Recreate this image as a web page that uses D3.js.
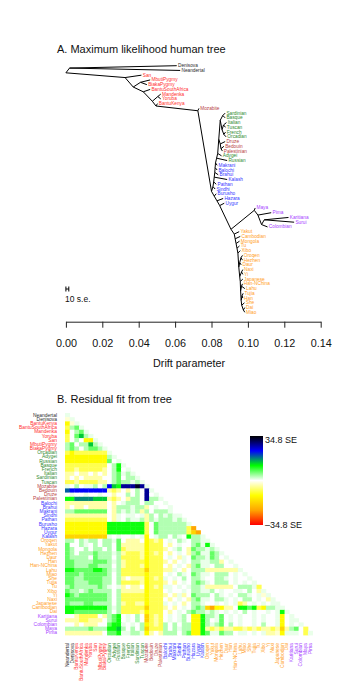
<!DOCTYPE html>
<html>
<head>
<meta charset="utf-8">
<script src="https://cdnjs.cloudflare.com/ajax/libs/d3/7.8.5/d3.min.js"></script>
<style>
  body { margin: 0; background: #fff; }
  svg text { font-family: "Liberation Sans", Arial, Helvetica, sans-serif; }
</style>
</head>
<body>
<svg id="chart" width="350" height="700"></svg>
<script>
// population groups, in the order used by the residual matrix
const archaicPops = ["Neandertal", "Denisova"];
const africanPops = ["BantuKenya", "BantuSouthAfrica", "Mandenka", "Yoruba", "San", "MbutiPygmy", "BiakaPygmy"];
const europeanPops = ["Orcadian", "Adygei", "Russian", "Basque", "French", "Italian", "Sardinian", "Tuscan"];
const middleEastPops = ["Mozabite", "Bedouin", "Druze", "Palestinian"];
const centralAsiaPops = ["Balochi", "Brahui", "Makrani", "Sindhi", "Pathan", "Burusho", "Hazara", "Uygur", "Kalash"];
const eastAsiaPops = ["Oroqen", "Yakut", "Mongola", "Hezhen", "Daur", "Han", "Han-NChina", "Lahu", "Miao", "She",
                      "Tujia", "Tu", "Xibo", "Yi", "Naxi", "Japanese", "Cambodian", "Dai"];
const americaPops = ["Karitiana", "Surui", "Colombian", "Maya", "Pima"];

// tree: [node, parent, drift from root]; children listed top to bottom
const treeNodes = [
  ["root", "", 0], ["archaic", "root", 0.002], ["Denisova", "archaic", 0.0609], ["Neandertal", "archaic", 0.0628],
  ["modern", "root", 0.0325], ["San", "modern", 0.0415], ["a1", "modern", 0.037],
  ["pyg", "a1", 0.041], ["MbutiPygmy", "pyg", 0.0463], ["BiakaPygmy", "pyg", 0.0445],
  ["a2", "a1", 0.0425], ["BantuSouthAfrica", "a2", 0.0463], ["a3", "a2", 0.0475],
  ["wafr", "a3", 0.0505], ["Mandenka", "wafr", 0.0521], ["Yoruba", "wafr", 0.0521],
  ["a4", "a3", 0.0495], ["BantuKenya", "a4", 0.0503],
  ["ooa", "a4", 0.0725], ["Mozabite", "ooa", 0.0731], ["eura", "ooa", 0.0800],
  ["w1", "eura", 0.0808], ["w2", "w1", 0.0812], ["w3", "w2", 0.0815], ["w4", "w3", 0.0818],
  ["w5", "w4", 0.0820], ["w6", "w5", 0.0822], ["weur", "w6", 0.0828], ["weur2", "weur", 0.0834],
  ["weur3", "weur2", 0.0840], ["eu", "weur3", 0.0848],
  ["sb", "eu", 0.0862], ["Sardinian", "sb", 0.0875], ["Basque", "sb", 0.0875],
  ["eu2", "eu", 0.0858], ["it", "eu2", 0.0866], ["Italian", "it", 0.0882], ["Tuscan", "it", 0.0877],
  ["fo", "eu2", 0.0868], ["French", "fo", 0.0877], ["Orcadian", "fo", 0.0880],
  ["me", "weur3", 0.0848], ["Druze", "me", 0.0875], ["me2", "me", 0.0852],
  ["Bedouin", "me2", 0.0868], ["Palestinian", "me2", 0.0860],
  ["Adygei", "weur2", 0.0855], ["Russian", "weur", 0.0886], ["Makrani", "w6", 0.0831],
  ["Balochi", "w5", 0.0831], ["Brahui", "w4", 0.0837], ["Kalash", "w3", 0.0886],
  ["Pathan", "w2", 0.0826], ["Sindhi", "w1", 0.0820],
  ["b1", "eura", 0.0815], ["Burusho", "b1", 0.0826], ["b2", "b1", 0.0830], ["Hazara", "b2", 0.0864],
  ["b3", "b2", 0.0845], ["Uygur", "b3", 0.0870], ["east", "b3", 0.0907],
  ["am1", "east", 0.1035], ["Maya", "am1", 0.1040], ["am2", "am1", 0.1055], ["Pima", "am2", 0.1128],
  ["am3", "am2", 0.1075], ["am4", "am3", 0.1090], ["Karitiana", "am4", 0.1223], ["Surui", "am4", 0.1254],
  ["Colombian", "am3", 0.1108],
  ["ea1", "east", 0.0925], ["Yakut", "ea1", 0.0952], ["ea2", "ea1", 0.0930], ["Cambodian", "ea2", 0.0958],
  ["ea3", "ea2", 0.0935], ["Mongola", "ea3", 0.0954], ["ea4", "ea3", 0.0940], ["Tu", "ea4", 0.0954],
  ["ea5", "ea4", 0.0945], ["Xibo", "ea5", 0.0958], ["ea6", "ea5", 0.0950],
  ["ne", "ea6", 0.0955], ["oh", "ne", 0.0962], ["Oroqen", "oh", 0.0970], ["Hezhen", "oh", 0.0970],
  ["Daur", "ne", 0.0963], ["ea7", "ea6", 0.0955], ["ny", "ea7", 0.0965], ["Naxi", "ny", 0.0972],
  ["Yi", "ny", 0.0972], ["ea8", "ea7", 0.0958], ["Japanese", "ea8", 0.0972], ["ea9", "ea8", 0.0960],
  ["hl", "ea9", 0.0965], ["Han-NChina", "hl", 0.0970], ["Lahu", "hl", 0.0983], ["ea10", "ea9", 0.0963],
  ["th", "ea10", 0.0968], ["Tujia", "th", 0.0974], ["Han", "th", 0.0972], ["ea11", "ea10", 0.0966],
  ["She", "ea11", 0.0981], ["sdm", "ea11", 0.0975], ["Dai", "sdm", 0.0983], ["Miao", "sdm", 0.0983]
];

const driftTicks = [0, 0.02, 0.04, 0.06, 0.08, 0.10, 0.12, 0.14];
const scaleBarSE = 0.0016;   // 10 s.e. in drift units
const residualMax = 34.8;

// residual levels (in s.e.), one letter per cell
const residualLevels = {R: -33, O: -23, o: -17, Y: -12, y: -8, l: -4, m: -2, ".": 0, e: 1,
                        g: 3.5, G: 7, H: 11, D: 14, T: 17, S: 19, B: 23, N: 28, K: 33};

// lower triangle of the residual matrix, row by row (spaces only group columns)
const residualRows = [
  "e", "me", "Yme", "ygGe", "Y.gGe", "y.GDge", "y.g.YYe", "gG.ggDge", "gGg.gGGge",
  "yYyyyyyyy e",
  "YYYYYYYYY ge",
  "YYYYYYYYY G.e",
  "yyyyyyyyy .gHe",
  "yylyyyyyl .gH.e",
  "ll.ll.l.l .gGege",
  "l.l.llll. .gG.gge",
  "yylyyyyll .gGggege",
  "e.g.eeg.g BDHNNNKN e",
  "SBBBBBBBB lyl.l.g. N e",
  ".e..e..e. .l..g.g. N .e",
  "HHTTTTDDD lyl.lgg. N gge",
  "lllllllll .l.eggg. g g..e",
  "l.ll.llll .lgggegg l .e..e",
  "ggGGGGGGG .lgegeg lg. ggge",
  "lllllllll .le.ee.e l g.gegee",
  "yyyyyyyyy .le.geeg l gegggege",
  "YYYYYYYYY HHHHHHHH y .G gggggg e",
  "YYYYYYYYY HHHHHHHH y .G gggggg yO",
  "YYYYYYYYY HHHHHHHH y .G gggggg yoO",
  "ooooooooo e.e..e.e Y .eg g.ge. Hgge",
  "gg.gegg.g geG.lll. Y yly .e.ge. gg e e",
  "G..ge.g.g g.Glllll Y yyy .l.e.. gG e He",
  "Gg..g.gg. g.Gyllll Y yyy l.eg.l Gg g ege",
  "Gg.gggGgg geglyyyl Y yly .l.e.l gG e eGge",
  "Ggggg.Ggg g.gyyyyl Y yyy .e.le. Gg g eGg.e",
  "GGggggGGG geglyyyy Y yyy l.l.e. gg e eggl.e",
  "GGgggGGgg g.glyyyl Y yyy .l.e.l gG e e.gg..e",
  "HHGGGGHHG gegyyyyy o yyy lle.l. gg g llllllle",
  "GGGgGGGGG g.gyyyyy Y yyy .e.ge. Gg e e.ggg.e.e",
  "GGggGGGGg g.gl.lll Y yly e.e.g. gg e ..gge.e..e",
  "GGgggGGGg g.gyyyyl Y yyy l.l.e. gG g e.ggg.e.e.e",
  "gGgggggGg e.el.ll. Y yly ee.e.e gg e llllll.gggey",
  "GggegGggg g.glllll Y yyy .e..e. gg e eg.e..ee.g.le",
  "HGgGGGGGG g.gyyyyy Y yyy l.lel. Gg g g.ge.e.gge.eme",
  "GGGGGGGGG g.gyyyyy Y yyy .l.e.l gG e e.gge.e.gg.e.le",
  "GgggGGggg g.glyyll Y yyy e.e.l. gg e ..e.e.eyl.e.e.ee",
  "HHHHHHHHH gegyyyyy o yyy l.l.e. gG g oOYYll.HHGHyYggee",
  "HHGGGGGGG g.gyyyyl Y yyy .l.e.g Gg g ege.e.e.g.e..e.eHe",
  "..lyyyy.l gGH.e.g. o yly .e.eg. YY H ggeG.e.e..e.e..eY. e",
  "lllyylll. gGH.e.g. o yly .e.eg. YY H g.eG.e.e..e.e..eY. ee",
  "..l.lll.. GHHe.e.g Y yly g.g.gg YY H gegG.g.e..e.g..eY. e.e",
  "gggggGggg HHDg.g.g o yyy g.gegg YY H lylyllyylylyllylol gG.y",
  "llllllll. GGHeegge Y l.l ggg.gG YY H GeeGgg.ee.e.ellmYe ee.ye"
];

const regionColors = {arc: "#2b2b2b", afr: "#ff2d2d", eur: "#2f8a2f", me: "#b8423f",
                      csa: "#3636ff", eas: "#ff9d1e", amr: "#a63dff"};

const populations = [].concat(archaicPops, africanPops, europeanPops, middleEastPops,
                              centralAsiaPops, eastAsiaPops, americaPops);
const regionOf = {};
[[archaicPops, "arc"], [africanPops, "afr"], [europeanPops, "eur"], [middleEastPops, "me"],
 [centralAsiaPops, "csa"], [eastAsiaPops, "eas"], [americaPops, "amr"]]
  .forEach(([list, r]) => list.forEach(p => regionOf[p] = r));
const popColor = p => regionColors[regionOf[p]];

const svg = d3.select('#chart');

// ---------- A. tree ----------
svg.append('text').attr('x', 57).attr('y', 53).attr('font-size', 11).attr('fill', '#111')
  .text('A. Maximum likelihood human tree');

const xscale = d3.scaleLinear().domain([0, 0.14]).range([65.9, 320.7]);

const root = d3.stratify().id(d => d[0]).parentId(d => d[1] || null)(treeNodes);
const tips = root.leaves().map(d => d.id);
const ytip = d3.scalePoint().domain(tips).range([65.7, 312.3]);

// internal nodes sit on the boundary between their two child groups
root.eachAfter(n => {
  n.px = xscale(n.data[2]);
  if (!n.children) {
    n.py = ytip(n.id);
  } else {
    const a = n.children[0].leaves();
    const b = n.children[n.children.length - 1].leaves();
    n.py = (ytip(a[a.length - 1].id) + ytip(b[0].id)) / 2;
  }
});

svg.append('g').selectAll('line').data(root.links()).join('line')
  .attr('x1', d => d.source.px).attr('y1', d => d.source.py)
  .attr('x2', d => d.target.px).attr('y2', d => d.target.py)
  .attr('stroke', '#000').attr('stroke-width', 1);

svg.append('g').selectAll('text').data(root.leaves()).join('text')
  .attr('x', d => d.px + 1.3).attr('y', d => d.py)
  .attr('dominant-baseline', 'central')
  .attr('font-size', 4.75)
  .attr('fill', d => popColor(d.id))
  .text(d => d.id);

// scale bar
const sb = svg.append('g').attr('stroke', '#000').attr('stroke-width', 1);
const sbY = 289;
sb.append('line').attr('x1', xscale(0)).attr('x2', xscale(scaleBarSE)).attr('y1', sbY).attr('y2', sbY);
sb.append('line').attr('x1', xscale(0)).attr('x2', xscale(0)).attr('y1', sbY - 2.5).attr('y2', sbY + 2.5);
sb.append('line').attr('x1', xscale(scaleBarSE)).attr('x2', xscale(scaleBarSE)).attr('y1', sbY - 2.5).attr('y2', sbY + 2.5);
svg.append('text').attr('x', 65).attr('y', 302).attr('font-size', 8.5).attr('fill', '#111').text('10 s.e.');

const xaxis = d3.axisBottom(xscale).tickValues(driftTicks).tickFormat(d3.format('.2f'))
  .tickSize(6).tickSizeOuter(0).tickPadding(12);
const gx = svg.append('g').attr('transform', 'translate(0,321.7)').call(xaxis);
gx.selectAll('text').attr('font-size', 10.8).attr('fill', '#111').attr('font-family', '"Liberation Sans", Arial, sans-serif');
gx.selectAll('line, path').attr('stroke', '#222');

svg.append('text').attr('x', 189).attr('y', 366.5).attr('text-anchor', 'middle')
  .attr('font-size', 10.8).attr('fill', '#111').text('Drift parameter');

// ---------- B. residuals ----------
svg.append('text').attr('x', 57).attr('y', 403).attr('font-size', 11).attr('fill', '#111')
  .text('B. Residual fit from tree');

const xcell = d3.scaleBand().domain(populations).range([65, 312.6]);
const ycell = d3.scaleBand().domain(populations).range([413, 635]);

const residColor = d3.scaleLinear()
  .domain(d3.range(7).map(i => -residualMax + i * residualMax / 3))
  .range(['#ff0000', '#ffa500', '#ffff00', '#ffffff', '#00ff00', '#0000ff', '#000000'])
  .clamp(true);

const cells = [];
residualRows.forEach((row, r) => {
  const codes = row.replace(/ /g, '');
  for (let c = 0; c <= r && c < codes.length; c++) {
    cells.push({row: populations[r], col: populations[c], value: residualLevels[codes[c]]});
  }
});

svg.append('g').selectAll('rect').data(cells).join('rect')
  .attr('x', d => xcell(d.col)).attr('y', d => ycell(d.row))
  .attr('width', xcell.bandwidth() + 0.4).attr('height', ycell.bandwidth() + 0.4)
  .attr('fill', d => residColor(d.value));

svg.append('g').selectAll('text').data(populations).join('text')
  .attr('x', 57).attr('y', d => ycell(d) + ycell.bandwidth() / 2)
  .attr('text-anchor', 'end').attr('dominant-baseline', 'central')
  .attr('font-size', 4.9).attr('fill', popColor).text(d => d);

svg.append('g').selectAll('text').data(populations).join('text')
  .attr('transform', d => `translate(${xcell(d) + xcell.bandwidth() / 2},643) rotate(-90)`)
  .attr('text-anchor', 'end').attr('dominant-baseline', 'central')
  .attr('font-size', 4.9).attr('fill', popColor).text(d => d);

// colour key
const grad = svg.append('defs').append('linearGradient').attr('id', 'key')
  .attr('x1', 0).attr('y1', 0).attr('x2', 0).attr('y2', 1);
residColor.domain().slice().reverse().forEach((v, i, arr) => {
  grad.append('stop').attr('offset', i / (arr.length - 1)).attr('stop-color', residColor(v));
});
svg.append('rect').attr('x', 250).attr('y', 436).attr('width', 13).attr('height', 89).attr('fill', 'url(#key)');
svg.append('text').attr('x', 265).attr('y', 440).attr('dominant-baseline', 'central')
  .attr('font-size', 9).attr('fill', '#111').text(residualMax + ' SE');
svg.append('text').attr('x', 265).attr('y', 524.5).attr('dominant-baseline', 'central')
  .attr('font-size', 9).attr('fill', '#111').text('\u2013' + residualMax + ' SE');
</script>
</body>
</html>
